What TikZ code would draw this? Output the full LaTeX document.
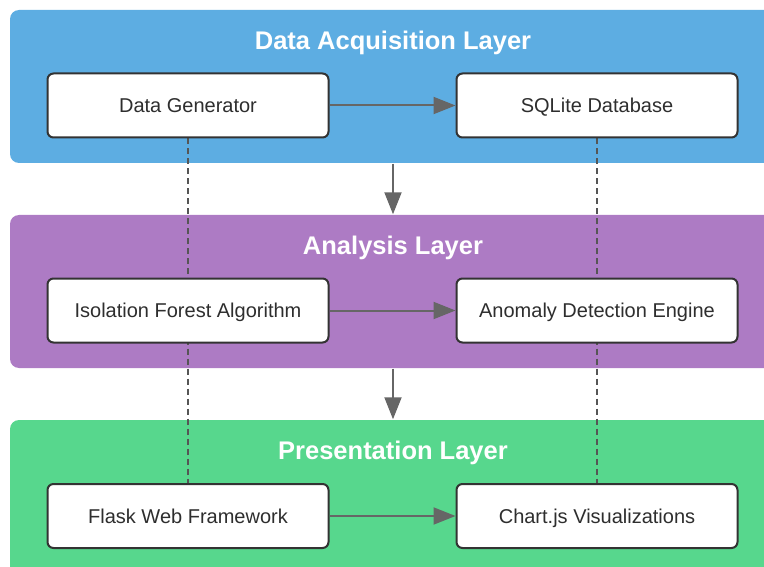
\documentclass[tikz,border=0pt]{standalone}
\usepackage{fontspec}
\setmainfont{Liberation Sans}
\usetikzlibrary{arrows.meta}
\definecolor{layerblue}{HTML}{5DADE2}
\definecolor{layerpurple}{HTML}{AD7BC4}
\definecolor{layergreen}{HTML}{57D78D}
\definecolor{arrowgray}{HTML}{666666}
\definecolor{boxborder}{HTML}{333333}
\definecolor{dashgray}{HTML}{555555}
\begin{document}
\begin{tikzpicture}[x=1pt,y=-1pt,
  layer/.style={rounded corners=9pt},
  layertitle/.style={text=white,font=\fontsize{25.5}{30}\selectfont\bfseries,anchor=center,text height=20pt,text depth=1pt,inner sep=0pt},
  compbox/.style={draw=boxborder,line width=2pt,fill=white,rounded corners=6pt,minimum width=281pt,minimum height=64pt,inner sep=0pt,font=\fontsize{20}{24}\selectfont,text=black!82,text height=16pt,text depth=2pt},
  flow/.style={draw=arrowgray,line width=2pt,-{Triangle[length=22pt,width=17pt]}},
  link/.style={draw=dashgray,line width=2pt,dash pattern=on 6pt off 4pt}]
\useasboundingbox (0,0) rectangle (764,567);
\clip (0,0) rectangle (764,567);
% layers
\path[layer,fill=layerblue] (10,10) rectangle (790,163);
\node[inner sep=0pt] (L1) at (393,163) {};
\path[layer,fill=layerpurple] (10,215) rectangle (790,368);
\node[inner sep=0pt] (L2t) at (393,215) {};
\node[inner sep=0pt] (L2b) at (393,368) {};
\path[layer,fill=layergreen] (10,420) rectangle (790,600);
\node[inner sep=0pt] (L3t) at (393,420) {};
\node[layertitle] (t1) at (393,40) {Data Acquisition Layer};
\node[layertitle] (t2) at (393,245) {Analysis Layer};
\node[layertitle] (t3) at (393,450) {Presentation Layer};
% placeholders for dashed links behind boxes
\node[compbox,draw=none,fill=none] (dgph) at (188,105.5) {};
\node[compbox,draw=none,fill=none] (sqph) at (597,105.5) {};
\node[compbox,draw=none,fill=none] (flph) at (188,516) {};
\node[compbox,draw=none,fill=none] (chph) at (597,516) {};
\draw[link] (dgph.south) -- (flph.north);
\draw[link] (sqph.south) -- (chph.north);
% boxes
\node[compbox] (dg) at (188,105.5) {Data Generator};
\node[compbox] (sq) at (597,105.5) {SQLite Database};
\node[compbox] (if) at (188,310.5) {Isolation Forest Algorithm};
\node[compbox] (ad) at (597,310.5) {Anomaly Detection Engine};
\node[compbox] (fl) at (188,516) {Flask Web Framework};
\node[compbox] (ch) at (597,516) {Chart.js Visualizations};
% arrows
\draw[flow] (dg) -- (sq);
\draw[flow] (if) -- (ad);
\draw[flow] (fl) -- (ch);
\draw[flow] (L1) -- (L2t);
\draw[flow] (L2b) -- (L3t);
\end{tikzpicture}
\end{document}
